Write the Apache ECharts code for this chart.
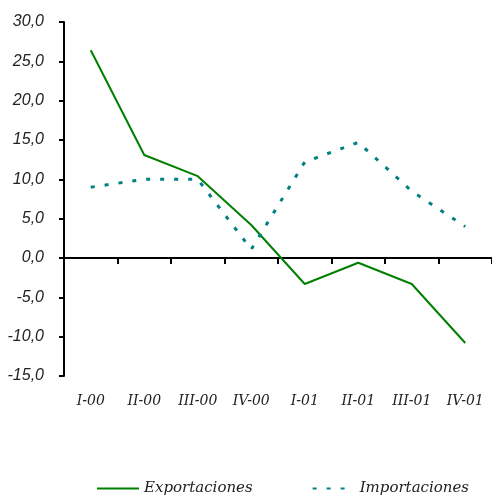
<!DOCTYPE html>
<html>
<head>
<meta charset="utf-8">
<script src="https://cdn.jsdelivr.net/npm/echarts@6/dist/echarts.min.js"></script>
<style>
  html, body { margin: 0; padding: 0; background: #ffffff; }
  #chart { width: 492px; height: 496px; }
</style>
</head>
<body>
<div id="chart"></div>
<script>
// Quarterly growth rates, 2000-2001
const quarters = ['I-00', 'II-00', 'III-00', 'IV-00', 'I-01', 'II-01', 'III-01', 'IV-01'];
const exportaciones = [26.4, 13.1, 10.4, 4.2, -3.3, -0.6, -3.3, -10.8];
const importaciones = [9.0, 10.0, 10.0, 1.1, 12.2, 14.7, 8.5, 4.0];
const yTicks = { min: -15, max: 30, step: 5 };

const serifFont = '"DejaVu Serif", serif';
const sansFont = '"Liberation Sans", Arial, sans-serif';
const textColor = '#222222';

const chart = echarts.init(document.getElementById('chart'), null, { renderer: 'canvas' });

chart.setOption({
  animation: false,
  backgroundColor: '#ffffff',
  grid: { left: 64, right: 0, top: 22, bottom: 120, containLabel: false, outerBoundsMode: 'none' },
  xAxis: [
    {
      // axis line through zero with the quarter separators
      type: 'category',
      data: quarters,
      boundaryGap: true,
      axisLine: { onZero: true, lineStyle: { color: '#000000', width: 2 } },
      axisTick: { show: true, length: 6, lineStyle: { color: '#000000', width: 2 } },
      axisLabel: { show: false },
      splitLine: { show: false }
    },
    {
      // quarter names along the bottom of the plot
      type: 'category',
      data: quarters,
      position: 'bottom',
      boundaryGap: true,
      axisLine: { show: false, onZero: false },
      axisTick: { show: false },
      axisLabel: { margin: 18, color: textColor, fontFamily: serifFont, fontStyle: 'italic', fontSize: 14 },
      splitLine: { show: false }
    }
  ],
  yAxis: {
    type: 'value',
    min: yTicks.min,
    max: yTicks.max,
    interval: yTicks.step,
    axisLine: { show: true, lineStyle: { color: '#000000', width: 2 } },
    axisTick: { show: true, length: 5, lineStyle: { color: '#000000', width: 2 } },
    axisLabel: {
      margin: 20,
      color: textColor,
      fontFamily: sansFont,
      fontStyle: 'italic',
      fontSize: 16,
      formatter: v => v.toFixed(1).replace('.', ',')
    },
    splitLine: { show: false }
  },
  legend: {
    left: 96,
    top: 481,
    padding: 0,
    itemWidth: 42,
    itemHeight: 14,
    itemGap: 59,
    itemStyle: { opacity: 0 },
    textStyle: { color: textColor, fontFamily: serifFont, fontStyle: 'italic', fontSize: 15 },
    data: ['Exportaciones', 'Importaciones']
  },
  series: [
    {
      name: 'Exportaciones',
      type: 'line',
      data: exportaciones,
      symbol: 'none',
      lineStyle: { color: '#008000', width: 2 },
      itemStyle: { color: '#008000' }
    },
    {
      name: 'Importaciones',
      type: 'line',
      data: importaciones,
      symbol: 'none',
      lineStyle: { color: '#008080', width: 3, type: [4, 10], cap: 'butt' },
      itemStyle: { color: '#008080' }
    }
  ]
});
</script>
</body>
</html>
